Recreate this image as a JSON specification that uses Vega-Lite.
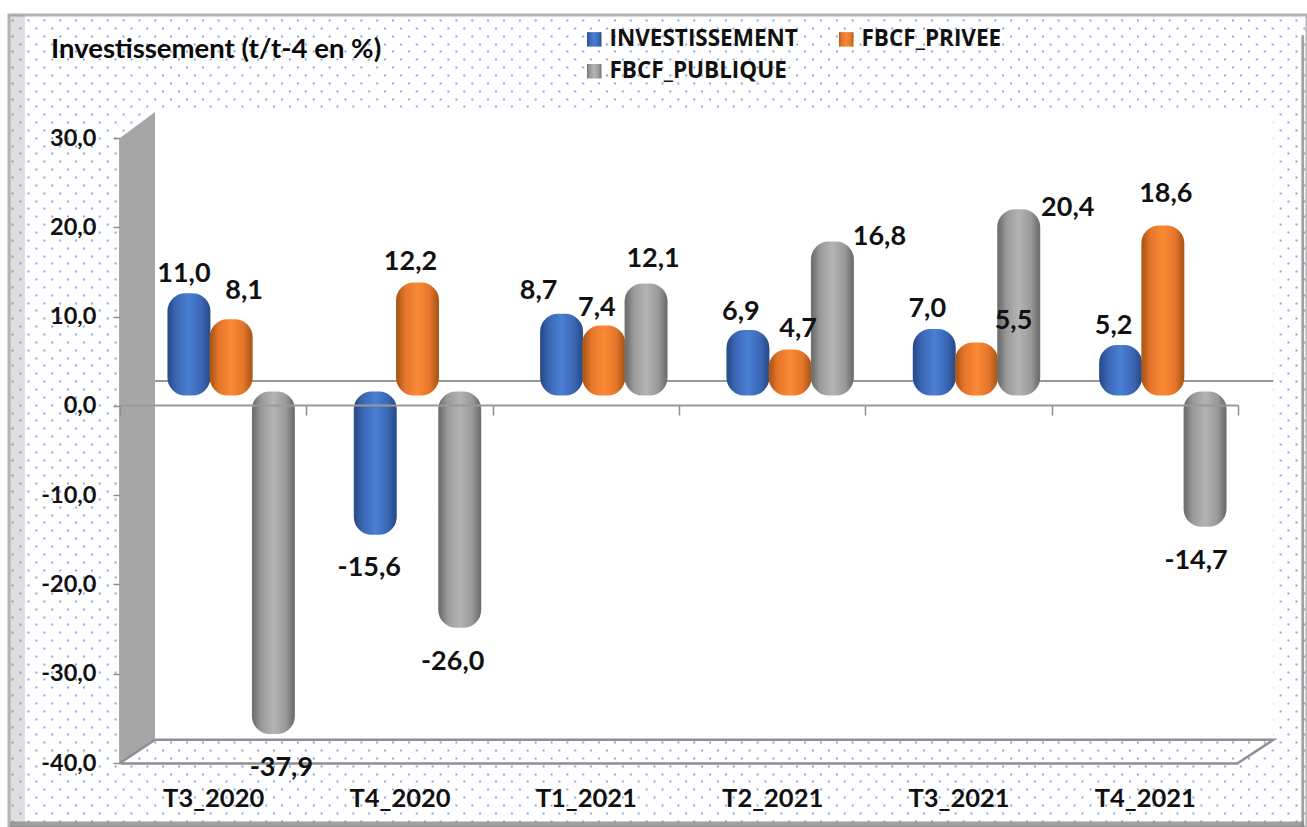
{
"$schema":"https://vega.github.io/schema/vega-lite/v6.json",
"width":1298,"height":812,
"padding":{"left":9,"top":15,"right":0,"bottom":0},
"autosize":{"type":"none"},
"background":"#ffffff",
"title":{"text":"Investissement (t/t-4 en %)","anchor":"start","frame":"group","dx":42,"dy":75,"font":"Lato","fontSize":27.5,"fontWeight":"bold","color":"#0a0a0a","baseline":"alphabetic"},
"config":{
  "locale":{"number":{"decimal":",","thousands":" ","grouping":[3],"currency":["",""],"minus":"-"}},
  "view":{"stroke":"#b4b4b4","strokeWidth":3,"fill":"#ffffff"},
  "font":"Lato"
},
"datasets":{
  "valeurs":[
   {"trimestre":"T3_2020","serie":"INVESTISSEMENT","valeur":11.0},
   {"trimestre":"T3_2020","serie":"FBCF_PRIVEE","valeur":8.1},
   {"trimestre":"T3_2020","serie":"FBCF_PUBLIQUE","valeur":-37.9},
   {"trimestre":"T4_2020","serie":"INVESTISSEMENT","valeur":-15.6},
   {"trimestre":"T4_2020","serie":"FBCF_PRIVEE","valeur":12.2},
   {"trimestre":"T4_2020","serie":"FBCF_PUBLIQUE","valeur":-26.0},
   {"trimestre":"T1_2021","serie":"INVESTISSEMENT","valeur":8.7},
   {"trimestre":"T1_2021","serie":"FBCF_PRIVEE","valeur":7.4},
   {"trimestre":"T1_2021","serie":"FBCF_PUBLIQUE","valeur":12.1},
   {"trimestre":"T2_2021","serie":"INVESTISSEMENT","valeur":6.9},
   {"trimestre":"T2_2021","serie":"FBCF_PRIVEE","valeur":4.7},
   {"trimestre":"T2_2021","serie":"FBCF_PUBLIQUE","valeur":16.8},
   {"trimestre":"T3_2021","serie":"INVESTISSEMENT","valeur":7.0},
   {"trimestre":"T3_2021","serie":"FBCF_PRIVEE","valeur":5.5},
   {"trimestre":"T3_2021","serie":"FBCF_PUBLIQUE","valeur":20.4},
   {"trimestre":"T4_2021","serie":"INVESTISSEMENT","valeur":5.2},
   {"trimestre":"T4_2021","serie":"FBCF_PRIVEE","valeur":18.6},
   {"trimestre":"T4_2021","serie":"FBCF_PUBLIQUE","valeur":-14.7}
  ]
},
"layer":[
 {"data":{"values":[{"g":0}]},
  "mark":{"type":"rule","opacity":0},
  "encoding":{"y":{"field":"g","type":"quantitative","scale":{"domain":[0,812],"range":[0,812]},
   "axis":{"orient":"left","grid":true,"domain":false,"ticks":false,"labels":false,"title":null,"gridColor":"#5f8ce0","gridWidth":2,"gridOpacity":0.75,"gridDash":[2,13.85],"gridDashOffset":13.7,
   "values":[5,20.7,36.4,52.1,67.8,83.5,99.2,114.9,130.6,146.3,162,177.7,193.4,209.1,224.8,240.5,256.2,271.9,287.6,303.3,319,334.7,350.4,366.1,381.8,397.5,413.2,428.9,444.6,460.3,476,491.7,507.4,523.1,538.8,554.5,570.2,585.9,601.6,617.3,633,648.7,664.4,680.1,695.8,711.5,727.2,742.9,758.6,774.3,790,805.7]}}}
 },
 {"data":{"values":[{"g":0}]},
  "mark":{"type":"rule","opacity":0},
  "encoding":{"y":{"field":"g","type":"quantitative","scale":{"domain":[0,812],"range":[0,812]},
   "axis":{"orient":"left","grid":true,"domain":false,"ticks":false,"labels":false,"title":null,"gridColor":"#5f8ce0","gridWidth":2,"gridOpacity":0.75,"gridDash":[2,13.85],"gridDashOffset":5.85,
   "values":[12.85,28.55,44.25,59.95,75.65,91.35,107.05,122.75,138.45,154.15,169.85,185.55,201.25,216.95,232.65,248.35,264.05,279.75,295.45,311.15,326.85,342.55,358.25,373.95,389.65,405.35,421.05,436.75,452.45,468.15,483.85,499.55,515.25,530.95,546.65,562.35,578.05,593.75,609.45,625.15,640.85,656.55,672.25,687.95,703.65,719.35,735.05,750.75,766.45,782.15,797.85]}}}
 },
 {"data":{"values":[{"x":-0.59,"x2":-0.51,"y":43.8,"y2":-46.9}]},
  "mark":{"type":"rect","color":"#888888","opacity":0.28},
  "encoding":{
   "x":{"field":"x","type":"quantitative","scale":{"domain":[0,6],"range":[111,1229]},"axis":null},
   "x2":{"field":"x2"},
   "y":{"field":"y","type":"quantitative","scale":{"domain":[-40,30],"range":[748,123]},"axis":null},
   "y2":{"field":"y2"}}
 },
 {"data":{"values":[{"x":-0.59,"x2":6.355,"y":-46.55,"y2":-47.2},{"x":6.34,"x2":6.355,"y":41.5,"y2":-47.2}]},
  "mark":{"type":"rect","color":"#8a8a8a","opacity":0.8},
  "encoding":{
   "x":{"field":"x","type":"quantitative","scale":{"domain":[0,6],"range":[111,1229]},"axis":null},
   "x2":{"field":"x2"},
   "y":{"field":"y","type":"quantitative","scale":{"domain":[-40,30],"range":[748,123]},"axis":null},
   "y2":{"field":"y2"}}
 },
 {"data":{"values":[{"x":0.188,"x2":6.19,"y":32.9,"y2":-37.4}]},
  "mark":{"type":"rect","color":"#ffffff"},
  "encoding":{
   "x":{"field":"x","type":"quantitative","scale":{"domain":[0,6],"range":[111,1229]},"axis":null},
   "x2":{"field":"x2"},
   "y":{"field":"y","type":"quantitative","scale":{"domain":[-40,30],"range":[748,123]},"axis":null},
   "y2":{"field":"y2"}}
 },
 {"data":{"values":[{"x":0,"y":30,"y2":-40},{"x":0.188,"y":32.9,"y2":-37.4}]},
  "mark":{"type":"area","color":"#a6a6a6"},
  "encoding":{
   "x":{"field":"x","type":"quantitative","scale":{"domain":[0,6],"range":[111,1229]},"axis":null},
   "y":{"field":"y","type":"quantitative","scale":{"domain":[-40,30],"range":[748,123]},"axis":null},
   "y2":{"field":"y2"}}
 },
 {"data":{"values":[{"o":1,"x":0,"y":-40},{"o":2,"x":0.188,"y":-37.4},{"o":3,"x":6.19,"y":-37.4},{"o":4,"x":6,"y":-40}]},
  "mark":{"type":"line","color":"#8f8f8f","strokeWidth":2.5},
  "encoding":{
   "order":{"field":"o","type":"ordinal"},
   "x":{"field":"x","type":"quantitative","scale":{"domain":[0,6],"range":[111,1229]},"axis":null},
   "y":{"field":"y","type":"quantitative","scale":{"domain":[-40,30],"range":[748,123]},"axis":null}}
 },
 {"data":{"values":[{"x":0.188,"y":2.78},{"x":6.19,"y":2.78}]},
  "mark":{"type":"line","color":"#999999","strokeWidth":2},
  "encoding":{
   "x":{"field":"x","type":"quantitative","scale":{"domain":[0,6],"range":[111,1229]},"axis":null},
   "y":{"field":"y","type":"quantitative","scale":{"domain":[-40,30],"range":[748,123]},"axis":null}}
 },
 {"data":{"name":"valeurs"},
  "mark":{"type":"bar","width":39,"cornerRadius":16,"strokeWidth":4},
  "encoding":{
   "x":{"field":"trimestre","type":"nominal","sort":null,"scale":{"range":[129,1247],"paddingInner":0.32,"paddingOuter":0.16},"axis":null},
   "xOffset":{"field":"serie","type":"nominal","sort":["INVESTISSEMENT","FBCF_PRIVEE","FBCF_PUBLIQUE"]},
   "y":{"field":"valeur","type":"quantitative","scale":{"domain":[-40,30],"range":[735.7,110.6]},"axis":null},
   "stroke":{"field":"serie","type":"nominal","legend":null,
    "scale":{"domain":["INVESTISSEMENT","FBCF_PRIVEE","FBCF_PUBLIQUE"],"range":[
     {"expr":"{gradient:'linear',x1:0,y1:0,x2:1,y2:0,stops:[{offset:0,color:'#2b4f8e'},{offset:0.18,color:'#3a67b5'},{offset:0.5,color:'#4a7fd2'},{offset:0.82,color:'#3a67b5'},{offset:1,color:'#2b4f8e'}]}"},
     {"expr":"{gradient:'linear',x1:0,y1:0,x2:1,y2:0,stops:[{offset:0,color:'#b05a18'},{offset:0.18,color:'#e5752a'},{offset:0.5,color:'#fb8a36'},{offset:0.82,color:'#e5752a'},{offset:1,color:'#b05a18'}]}"},
     {"expr":"{gradient:'linear',x1:0,y1:0,x2:1,y2:0,stops:[{offset:0,color:'#717171'},{offset:0.18,color:'#999999'},{offset:0.5,color:'#b4b4b4'},{offset:0.82,color:'#999999'},{offset:1,color:'#717171'}]}"}
    ]}},
   "color":{"field":"serie","type":"nominal",
    "scale":{"domain":["INVESTISSEMENT","FBCF_PRIVEE","FBCF_PUBLIQUE"],"range":[
     {"expr":"{gradient:'linear',x1:0,y1:0,x2:1,y2:0,stops:[{offset:0,color:'#2b4f8e'},{offset:0.18,color:'#3a67b5'},{offset:0.5,color:'#4a7fd2'},{offset:0.82,color:'#3a67b5'},{offset:1,color:'#2b4f8e'}]}"},
     {"expr":"{gradient:'linear',x1:0,y1:0,x2:1,y2:0,stops:[{offset:0,color:'#b05a18'},{offset:0.18,color:'#e5752a'},{offset:0.5,color:'#fb8a36'},{offset:0.82,color:'#e5752a'},{offset:1,color:'#b05a18'}]}"},
     {"expr":"{gradient:'linear',x1:0,y1:0,x2:1,y2:0,stops:[{offset:0,color:'#717171'},{offset:0.18,color:'#999999'},{offset:0.5,color:'#b4b4b4'},{offset:0.82,color:'#999999'},{offset:1,color:'#717171'}]}"}
    ]},
    "legend":{"orient":"none","legendX":574,"legendY":13,"columns":2,"direction":"horizontal","title":null,"symbolType":"square","symbolSize":210,"symbolStrokeWidth":0,"labelFont":"Open Sans","labelFontWeight":"bold","labelFontSize":22.5,"labelColor":"#111111","labelLimit":300,"columnPadding":37,"rowPadding":9,"labelOffset":4}}
  }
 },
 {"data":{"name":"valeurs"},
  "mark":{"type":"text","font":"Lato","fontWeight":"bold","fontSize":27,"color":"#111111","baseline":"middle",
   "dx":{"expr":"{'T3_2020INVESTISSEMENT':-5,'T3_2020FBCF_PRIVEE':13,'T3_2020FBCF_PUBLIQUE':8,'T4_2020INVESTISSEMENT':-6,'T4_2020FBCF_PRIVEE':-7,'T4_2020FBCF_PUBLIQUE':-7,'T1_2021INVESTISSEMENT':-23,'T1_2021FBCF_PRIVEE':-7,'T1_2021FBCF_PUBLIQUE':7,'T2_2021INVESTISSEMENT':-7,'T2_2021FBCF_PRIVEE':8,'T2_2021FBCF_PUBLIQUE':47,'T3_2021INVESTISSEMENT':-7,'T3_2021FBCF_PRIVEE':37,'T3_2021FBCF_PUBLIQUE':49,'T4_2021INVESTISSEMENT':-7,'T4_2021FBCF_PRIVEE':3,'T4_2021FBCF_PUBLIQUE':-9}[datum.trimestre+datum.serie]"},
   "dy":{"expr":"{'T3_2020INVESTISSEMENT':-22,'T3_2020FBCF_PRIVEE':-31,'T3_2020FBCF_PUBLIQUE':36,'T4_2020INVESTISSEMENT':35,'T4_2020FBCF_PRIVEE':-23,'T4_2020FBCF_PUBLIQUE':36,'T1_2021INVESTISSEMENT':-25,'T1_2021FBCF_PRIVEE':-20,'T1_2021FBCF_PUBLIQUE':-27,'T2_2021INVESTISSEMENT':-20,'T2_2021FBCF_PRIVEE':-23,'T2_2021FBCF_PUBLIQUE':-7,'T3_2021INVESTISSEMENT':-22,'T3_2021FBCF_PRIVEE':-24,'T3_2021FBCF_PUBLIQUE':-4,'T4_2021INVESTISSEMENT':-22,'T4_2021FBCF_PRIVEE':-34,'T4_2021FBCF_PUBLIQUE':36}[datum.trimestre+datum.serie]"}},
  "encoding":{
   "x":{"field":"trimestre","type":"nominal","sort":null,"scale":{"range":[129,1247],"paddingInner":0.32,"paddingOuter":0.16},"axis":null},
   "xOffset":{"field":"serie","type":"nominal","sort":["INVESTISSEMENT","FBCF_PRIVEE","FBCF_PUBLIQUE"]},
   "y":{"field":"valeur","type":"quantitative","scale":{"domain":[-40,30],"range":[736.2,111.1]},"axis":null},
   "text":{"field":"valeur","type":"quantitative","format":".1f"}}
 },
 {"data":{"name":"valeurs"},
  "mark":{"type":"point","opacity":0},
  "encoding":{
   "x":{"field":"trimestre","type":"nominal","sort":null,"scale":{"range":[111,1229],"paddingInner":0,"paddingOuter":0},
    "axis":{"orient":"bottom","offset":-64,"title":null,"grid":false,"ticks":false,"domain":true,"domainColor":"#8f8f8f","domainWidth":2.5,"labelAngle":0,"labelFont":"Lato","labelFontWeight":"bold","labelFontSize":25.5,"labelColor":"#111111","labelPadding":23}},
   "y":{"field":"valeur","type":"quantitative","scale":{"domain":[-40,30],"range":[748,123]},
    "axis":{"orient":"left","offset":-111,"title":null,"grid":false,"values":[-40,-30,-20,-10,0,10,20,30],"format":".1f","domain":true,"domainColor":"#8f8f8f","domainWidth":2.5,"ticks":true,"tickColor":"#8f8f8f","tickSize":7,"tickWidth":1.5,"labelFont":"Lato","labelFontWeight":"bold","labelFontSize":23.5,"labelColor":"#111111","labelPadding":17}}}
 },
 {"data":{"name":"valeurs"},
  "mark":{"type":"point","opacity":0},
  "encoding":{
   "x":{"field":"trimestre","type":"nominal","sort":null,"scale":{"range":[111,1229],"paddingInner":0,"paddingOuter":0},
    "axis":{"orient":"bottom","offset":-422,"title":null,"grid":false,"labels":false,"ticks":true,"tickBand":"extent","tickColor":"#8f8f8f","tickSize":10,"tickWidth":1.5,"domain":true,"domainColor":"#999999","domainWidth":2,"zindex":1}}}
 }
],
"resolve":{"scale":{"x":"independent","y":"independent","xOffset":"independent","color":"independent","stroke":"independent"},"axis":{"x":"independent","y":"independent"}}
}
